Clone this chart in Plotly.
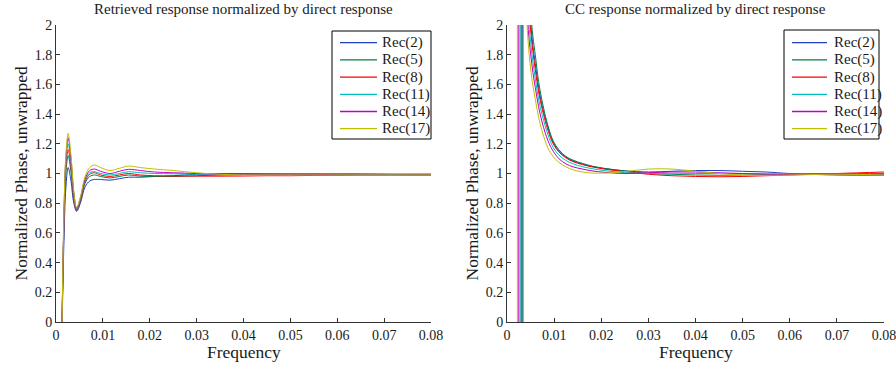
import plotly.graph_objects as go

# ---------------- data ----------------
series_names = ["Rec(2)", "Rec(5)", "Rec(8)", "Rec(11)", "Rec(14)", "Rec(17)"]
series_colors = ["#1f3fbf", "#008040", "#ff0000", "#00bfbf", "#bf00bf", "#bfbf00"]

x_tick_vals = [0, 0.01, 0.02, 0.03, 0.04, 0.05, 0.06, 0.07, 0.08]
x_tick_text = ["0", "0.01", "0.02", "0.03", "0.04", "0.05", "0.06", "0.07", "0.08"]
y_tick_vals = [0, 0.2, 0.4, 0.6, 0.8, 1, 1.2, 1.4, 1.6, 1.8, 2]
y_tick_text = ["0", "0.2", "0.4", "0.6", "0.8", "1", "1.2", "1.4", "1.6", "1.8", "2"]

# Left panel: retrieved response / direct response
left_freq = [0.0012, 0.0017, 0.0021, 0.0026, 0.0032, 0.0038, 0.0044, 0.0052, 0.0062,
             0.0072, 0.0082, 0.0095, 0.0115, 0.0135, 0.0155, 0.018, 0.021, 0.025, 0.03,
             0.035, 0.04, 0.045, 0.05, 0.055, 0.06, 0.065, 0.07, 0.075, 0.08]
left_rec2 = [-0.2, 0.55, 0.9, 1.04, 0.95, 0.8, 0.745, 0.8, 0.91, 0.95, 0.96, 0.96, 0.955,
             0.965, 0.975, 0.975, 0.98, 0.985, 0.995, 1.0, 1.0, 1.0, 1.0, 1.0, 0.998,
             0.997, 0.995, 0.995, 0.995]
left_rec5 = [-0.2, 0.65, 1.0, 1.12, 1.01, 0.83, 0.75, 0.81, 0.935, 0.98, 0.99, 0.98, 0.97,
             0.98, 0.99, 0.982, 0.98, 0.98, 0.985, 0.99, 0.992, 0.995, 0.995, 0.995,
             0.995, 0.995, 0.995, 0.995, 0.995]
left_rec8 = [-0.2, 0.68, 1.04, 1.16, 1.04, 0.84, 0.755, 0.82, 0.945, 0.995, 1.005, 0.99,
             0.98, 0.99, 1.0, 0.99, 0.985, 0.983, 0.982, 0.982, 0.983, 0.985, 0.985,
             0.987, 0.988, 0.99, 0.99, 0.99, 0.99]
left_rec11 = [-0.2, 0.7, 1.07, 1.2, 1.07, 0.86, 0.76, 0.83, 0.955, 1.005, 1.012, 1.0, 0.99,
              1.0, 1.012, 1.005, 1.0, 0.998, 0.995, 0.995, 0.995, 0.998, 1.0, 1.0, 0.998,
              0.995, 0.995, 0.99, 0.99]
left_rec14 = [-0.2, 0.72, 1.1, 1.24, 1.1, 0.87, 0.765, 0.835, 0.965, 1.02, 1.03, 1.015,
              1.0, 1.015, 1.028, 1.02, 1.01, 1.005, 1.0, 0.995, 0.995, 0.995, 0.995,
              0.995, 0.99, 0.99, 0.99, 0.99, 0.99]
left_rec17 = [-0.2, 0.75, 1.12, 1.27, 1.12, 0.88, 0.77, 0.84, 0.98, 1.04, 1.057, 1.04,
              1.02, 1.035, 1.05, 1.04, 1.03, 1.02, 1.005, 0.995, 0.99, 0.99, 0.99, 0.99,
              0.99, 0.99, 0.99, 0.99, 0.99]

# Right panel: CC response / direct response
# phase jumps from far below to far above the plotted range at the "pole" frequency
right_pole_freq = [0.0032, 0.0034, 0.0030, 0.0028, 0.0025, 0.0022]
right_pole_low = [-60, -60, -60, -60, -60, -60]
right_pole_high = [60, 60, 60, 60, 60, 60]
right_start_freq = [0.0005, 0.0005, 0.0005, 0.0005, 0.0005, 0.0005]
right_freq = [0.0040, 0.0045, 0.005, 0.0055, 0.006, 0.0067, 0.0075, 0.0087, 0.0098, 0.011,
              0.0125, 0.014, 0.016, 0.018, 0.021, 0.025, 0.03, 0.035, 0.04, 0.045, 0.05,
              0.055, 0.06, 0.07, 0.08]
right_rec2 = [2.75, 2.3, 2.03, 1.86, 1.74, 1.58, 1.45, 1.31, 1.21, 1.15, 1.11, 1.085, 1.064,
              1.048, 1.032, 1.018, 1.01, 1.015, 1.02, 1.02, 1.015, 1.01, 1.0, 0.99, 0.99]
right_rec5 = [3.0, 2.45, 2.1, 1.92, 1.8, 1.62, 1.48, 1.32, 1.22, 1.16, 1.115, 1.09, 1.068,
              1.05, 1.033, 1.017, 1.0, 0.995, 0.99, 0.988, 0.99, 0.993, 0.997, 1.0, 1.0]
right_rec8 = [2.6, 2.18, 1.97, 1.82, 1.7, 1.55, 1.43, 1.29, 1.2, 1.145, 1.105, 1.08, 1.06,
              1.045, 1.028, 1.012, 0.995, 0.985, 0.98, 0.978, 0.98, 0.985, 0.99, 1.0, 1.01]
right_rec11 = [2.45, 2.06, 1.89, 1.75, 1.64, 1.5, 1.39, 1.26, 1.175, 1.125, 1.088, 1.065,
               1.046, 1.033, 1.018, 1.006, 1.0, 0.998, 1.0, 1.0, 1.0, 0.998, 0.996, 0.995,
               0.995]
right_rec14 = [2.3, 1.97, 1.81, 1.68, 1.58, 1.45, 1.34, 1.22, 1.15, 1.1, 1.065, 1.045, 1.03,
               1.018, 1.007, 1.0, 1.005, 1.01, 1.01, 1.005, 1.0, 0.995, 0.993, 0.993, 0.99]
right_rec17 = [2.15, 1.88, 1.71, 1.59, 1.5, 1.38, 1.28, 1.17, 1.115, 1.075, 1.045, 1.025,
               1.01, 1.003, 1.003, 1.013, 1.03, 1.03, 1.015, 1.0, 0.99, 0.988, 0.99, 0.995,
               0.99]

left_series = [left_rec2, left_rec5, left_rec8, left_rec11, left_rec14, left_rec17]
right_series = [right_rec2, right_rec5, right_rec8, right_rec11, right_rec14, right_rec17]

# ---------------- figure ----------------
W, H = 896, 367
FONT = "'Liberation Serif', 'Times New Roman', Times, serif"
TXT = "#1a1a1a"

fig = go.Figure()

for i, name in enumerate(series_names):
    fig.add_trace(go.Scatter(
        x=left_freq, y=left_series[i], mode="lines", name=name,
        line=dict(color=series_colors[i], width=1, shape="spline", smoothing=1),
        xaxis="x", yaxis="y", showlegend=False, hoverinfo="skip"))

for i, name in enumerate(series_names):
    pole = right_pole_freq[i]
    fig.add_trace(go.Scatter(
        x=[right_start_freq[i], pole, pole + 1e-6, right_freq[0]],
        y=[right_pole_low[i], right_pole_low[i], right_pole_high[i], right_series[i][0]],
        mode="lines", line=dict(color=series_colors[i], width=1),
        xaxis="x2", yaxis="y2", showlegend=False, hoverinfo="skip"))
    fig.add_trace(go.Scatter(
        x=right_freq, y=right_series[i], mode="lines", name=name,
        line=dict(color=series_colors[i], width=1, shape="spline", smoothing=1),
        xaxis="x2", yaxis="y2", showlegend=False, hoverinfo="skip"))

ax_common = dict(
    showline=True, linecolor="#333333", linewidth=1, mirror=False,
    ticks="inside", ticklen=4, tickcolor="#333333", tickwidth=1,
    showgrid=False, zeroline=False, automargin=False,
    tickfont=dict(family=FONT, size=14, color=TXT),
)

L0, L1 = 56 / W, 431 / W
R0, R1 = 507 / W, 884 / W
Y0, Y1 = (H - 322) / H, (H - 25) / H

fig.update_layout(
    width=W, height=H, autosize=False, margin=dict(l=0, r=0, t=0, b=0, pad=0),
    paper_bgcolor="white", plot_bgcolor="white", showlegend=False,
    xaxis=dict(domain=[L0, L1], range=[0, 0.08], tickvals=x_tick_vals, ticktext=x_tick_text,
               anchor="y", ticklabeloverflow="allow", **ax_common),
    yaxis=dict(domain=[Y0, Y1], range=[0, 2], tickvals=y_tick_vals, ticktext=y_tick_text,
               anchor="x", **ax_common),
    xaxis2=dict(domain=[R0, R1], range=[0, 0.08], tickvals=x_tick_vals, ticktext=x_tick_text,
                anchor="y2", ticklabeloverflow="allow", **ax_common),
    yaxis2=dict(domain=[Y0, Y1], range=[0, 2], tickvals=y_tick_vals, ticktext=y_tick_text,
                anchor="x2", **ax_common),
)

annotations = [
    dict(text="Retrieved response normalized by direct response", x=(L0 + L1) / 2,
         y=1 - 9 / H, xref="paper", yref="paper", showarrow=False,
         font=dict(family=FONT, size=15, color=TXT), xanchor="center", yanchor="middle"),
    dict(text="CC response normalized by direct response", x=(R0 + R1) / 2,
         y=1 - 9 / H, xref="paper", yref="paper", showarrow=False,
         font=dict(family=FONT, size=15, color=TXT), xanchor="center", yanchor="middle"),
    dict(text="Frequency", x=(L0 + L1) / 2, y=1 - 352 / H, xref="paper", yref="paper",
         showarrow=False, font=dict(family=FONT, size=17.5, color=TXT),
         xanchor="center", yanchor="middle"),
    dict(text="Frequency", x=(R0 + R1) / 2, y=1 - 352 / H, xref="paper", yref="paper",
         showarrow=False, font=dict(family=FONT, size=17.5, color=TXT),
         xanchor="center", yanchor="middle"),
    dict(text="Normalized Phase, unwrapped", x=20 / W, y=(Y0 + Y1) / 2, xref="paper",
         yref="paper", showarrow=False, textangle=-90,
         font=dict(family=FONT, size=17.5, color=TXT), xanchor="center", yanchor="middle"),
    dict(text="Normalized Phase, unwrapped", x=471 / W, y=(Y0 + Y1) / 2, xref="paper",
         yref="paper", showarrow=False, textangle=-90,
         font=dict(family=FONT, size=17.5, color=TXT), xanchor="center", yanchor="middle"),
]

# Hand-drawn legend boxes (matlab-style)
shapes = []
legend_boxes = [
    dict(x0=332, x1=431, y0=31, y1=139, lx0=340, lx1=377, tx=380),
    dict(x0=784, x1=879, y0=30, y1=139, lx0=792, lx1=827, tx=832),
]
row_y = [42.7, 59.9, 77.1, 94.3, 111.5, 128.7]
for lb in legend_boxes:
    shapes.append(dict(type="rect", xref="paper", yref="paper",
                       x0=lb["x0"] / W, x1=lb["x1"] / W,
                       y0=1 - lb["y1"] / H, y1=1 - lb["y0"] / H,
                       line=dict(color="#000000", width=1), fillcolor="white", layer="above"))
    for i, name in enumerate(series_names):
        yy = 1 - row_y[i] / H
        shapes.append(dict(type="line", xref="paper", yref="paper",
                           x0=lb["lx0"] / W, x1=lb["lx1"] / W, y0=yy, y1=yy,
                           line=dict(color=series_colors[i], width=1.3), layer="above"))
        annotations.append(dict(text=name, x=lb["tx"] / W, y=yy, xref="paper", yref="paper",
                                showarrow=False, xanchor="left", yanchor="middle",
                                font=dict(family=FONT, size=15, color=TXT)))

fig.update_layout(annotations=annotations, shapes=shapes)

fig.write_html("out.html", config={"responsive": False, "displayModeBar": False})
